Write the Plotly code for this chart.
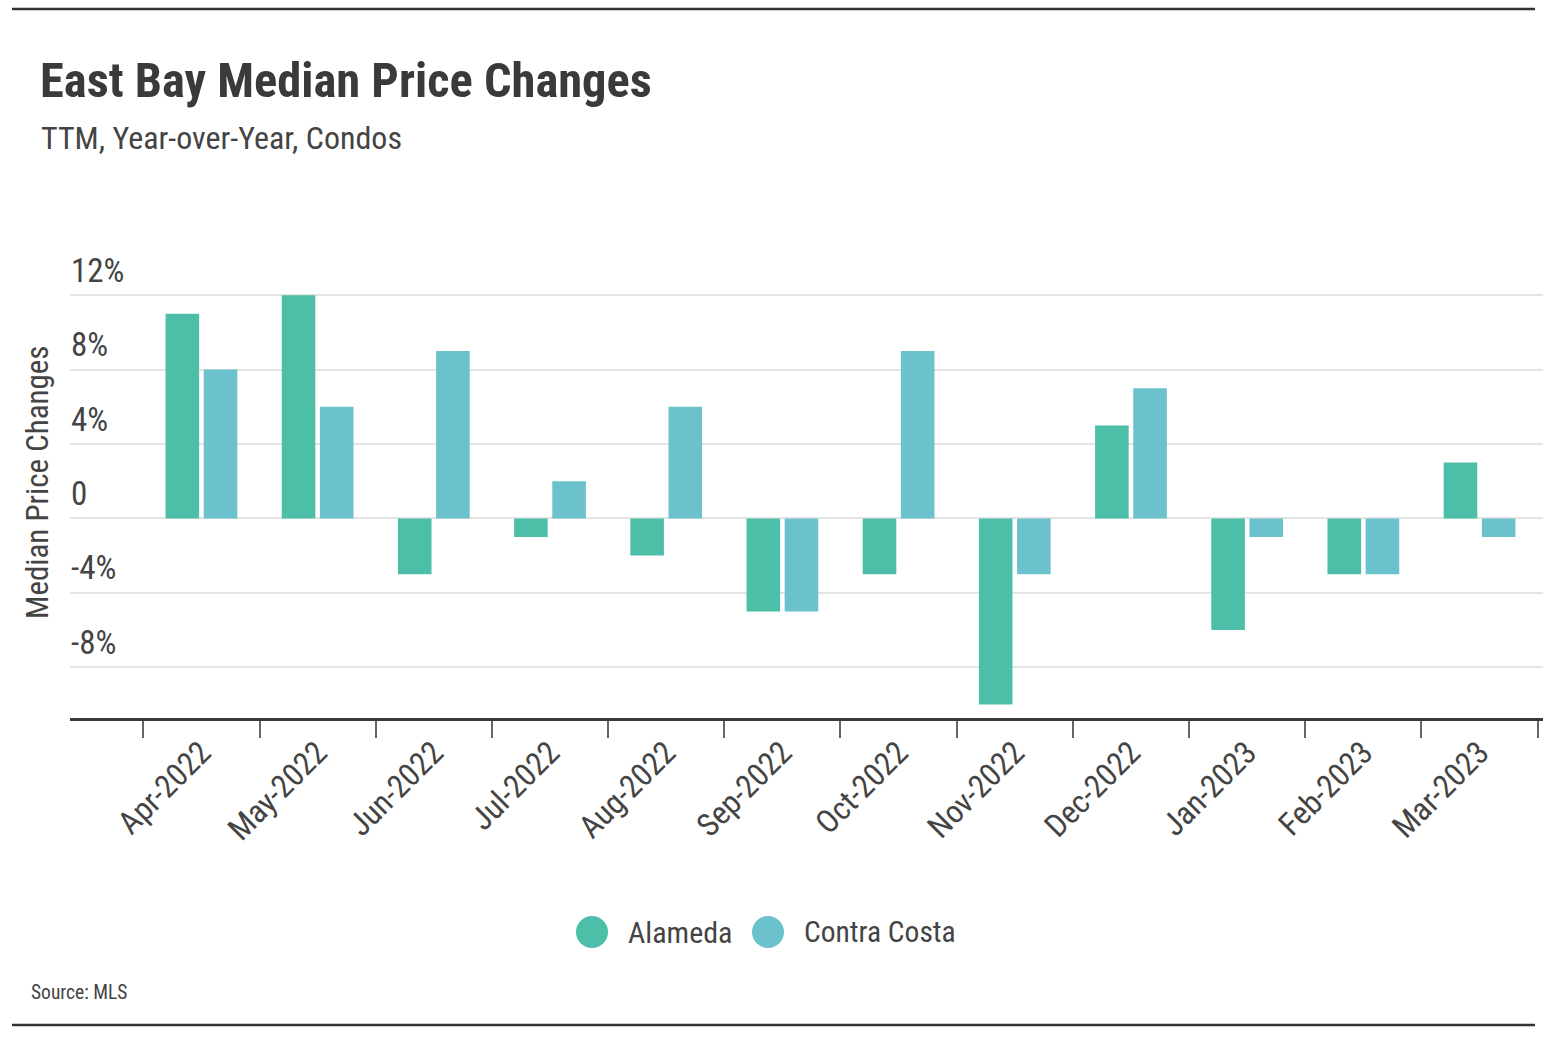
import plotly.graph_objects as go

months = ["Apr-2022", "May-2022", "Jun-2022", "Jul-2022", "Aug-2022", "Sep-2022",
          "Oct-2022", "Nov-2022", "Dec-2022", "Jan-2023", "Feb-2023", "Mar-2023"]
alameda = [11, 12, -3, -1, -2, -5, -3, -10, 5, -6, -3, 3]
contra_costa = [8, 6, 9, 2, 6, -5, 9, -3, 7, -1, -3, -1]
y_tick_vals = [-8, -4, 0, 4, 8, 12]
y_tick_text = ["-8%", "-4%", "0", "4%", "8%", "12%"]

C_ALA = "#4dbfa9"
C_CC = "#6bc1cc"
FONT = "Roboto Condensed, DejaVu Sans Condensed, sans-serif"
TXT = "#444444"

W, H = 1548, 1038
L, R, T, B = 70, 5, 245, 320
PW, PH = W - L - R, H - T - B


def px_x(px):
    return (px - L) / PW


def px_y(py):
    return (H - B - py) / PH


fig = go.Figure()
fig.add_bar(name="Alameda", x=months, y=alameda, marker_color=C_ALA,
            marker_line_width=0, showlegend=False)
fig.add_bar(name="Contra Costa", x=months, y=contra_costa, marker_color=C_CC,
            marker_line_width=0, showlegend=False)

shapes = [
    dict(type="line", xref="paper", yref="paper", x0=px_x(12), x1=px_x(1535),
         y0=px_y(9), y1=px_y(9), line=dict(color="#333333", width=2.5)),
    dict(type="line", xref="paper", yref="paper", x0=px_x(12), x1=px_x(1535),
         y0=px_y(1025), y1=px_y(1025), line=dict(color="#333333", width=2.5)),
    dict(type="circle", xref="paper", yref="paper", x0=px_x(576), x1=px_x(608),
         y0=px_y(948), y1=px_y(916), fillcolor=C_ALA, line=dict(width=0)),
    dict(type="circle", xref="paper", yref="paper", x0=px_x(752), x1=px_x(784),
         y0=px_y(948), y1=px_y(916), fillcolor=C_CC, line=dict(width=0)),
]

annotations = [
    dict(text="<b>East Bay Median Price Changes</b>", xref="paper", yref="paper",
         x=px_x(38), y=px_y(80), xanchor="left", yanchor="middle", showarrow=False,
         font=dict(family=FONT, size=48.5, color="#3a3a3a")),
    dict(text="TTM, Year-over-Year, Condos", xref="paper", yref="paper",
         x=px_x(39), y=px_y(138), xanchor="left", yanchor="middle", showarrow=False,
         font=dict(family=FONT, size=32, color=TXT)),
    dict(text="Median Price Changes", xref="paper", yref="paper",
         x=px_x(37), y=px_y(482), xanchor="center", yanchor="middle", showarrow=False,
         textangle=-90, font=dict(family=FONT, size=31, color=TXT)),
    dict(text="Alameda", xref="paper", yref="paper",
         x=px_x(626), y=px_y(932), xanchor="left", yanchor="middle", showarrow=False,
         font=dict(family=FONT, size=30, color=TXT)),
    dict(text="Contra Costa", xref="paper", yref="paper",
         x=px_x(802), y=px_y(932), xanchor="left", yanchor="middle", showarrow=False,
         font=dict(family=FONT, size=29.5, color=TXT)),
    dict(text="Source: MLS", xref="paper", yref="paper",
         x=px_x(29), y=px_y(992), xanchor="left", yanchor="middle", showarrow=False,
         font=dict(family=FONT, size=19.5, color=TXT)),
]

fig.update_layout(
    width=W, height=H,
    margin=dict(l=L, r=R, t=T, b=B, pad=0),
    paper_bgcolor="white", plot_bgcolor="white",
    barmode="group", bargap=0.343, bargroupgap=0.12,
    font=dict(family=FONT, size=30, color=TXT),
    shapes=shapes, annotations=annotations,
    showlegend=False,
    xaxis=dict(
        type="category", range=[-1.131, 11.546],
        showline=True, linecolor="#3a3a3a", linewidth=3,
        ticks="outside", ticklen=17, tickwidth=2, tickcolor="#666666",
        tickson="boundaries", tickangle=-45, showgrid=False,
        tickfont=dict(family=FONT, size=32, color=TXT),
    ),
    yaxis=dict(
        range=[-10.73, 14.7],
        tickvals=y_tick_vals, ticktext=y_tick_text,
        showgrid=True, gridcolor="#e4e4e4", gridwidth=2,
        zeroline=False, showline=False, ticks="",
        ticklabelposition="inside", ticklabelshift=-25, ticklabelstandoff=-2,
        tickfont=dict(family=FONT, size=33, color=TXT),
    ),
)

fig.write_html("out.html", config={"displayModeBar": False},
               post_script="document.body.style.margin='0';document.body.style.padding='0';")
